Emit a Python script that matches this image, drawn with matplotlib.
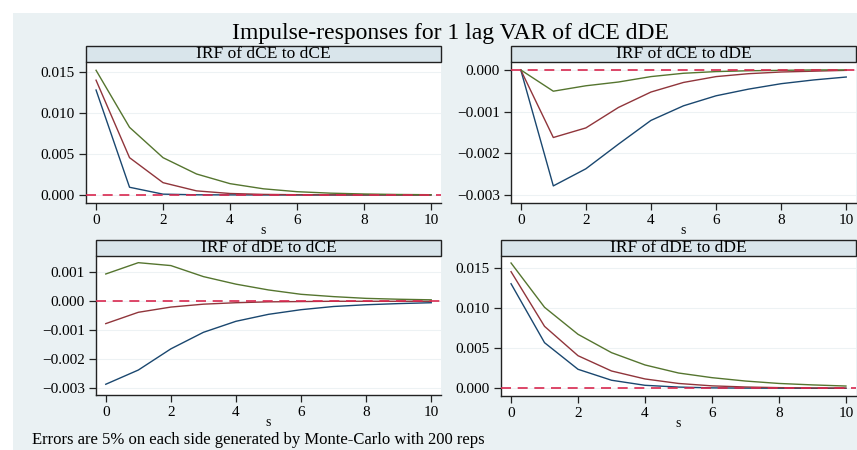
import matplotlib.pyplot as plt
from matplotlib.patches import Rectangle

# horizon steps
steps = [0, 1, 2, 3, 4, 5, 6, 7, 8, 9, 10]

# IRF of dCE to dCE
ce_ce_lo = [0.0128, 0.00094, 0.0001, 0.00002, 0.00001, 0.0, 0.0, 0.0, 0.0, 0.0, 0.0]
ce_ce_irf = [0.0140, 0.00455, 0.0015, 0.0005, 0.00018, 0.00007, 0.00003, 0.00001, 0.0, 0.0, 0.0]
ce_ce_hi = [0.01521, 0.00825, 0.00455, 0.00256, 0.00138, 0.00075, 0.0004, 0.00022, 0.00012, 0.00006, 0.00003]

# IRF of dCE to dDE
ce_de_lo = [0.0, -0.00278, -0.00237, -0.00178, -0.00121, -0.00086, -0.00062, -0.00046, -0.00033, -0.00024, -0.00017]
ce_de_irf = [0.0, -0.00162, -0.00139, -0.0009, -0.00053, -0.0003, -0.00016, -0.00009, -0.00005, -0.00003, -0.00001]
ce_de_hi = [0.0, -0.00051, -0.00038, -0.00029, -0.00016, -0.00008, -0.00004, -0.00002, -0.00001, 0.0, 0.0]

# IRF of dDE to dCE
de_ce_lo = [-0.00286, -0.00237, -0.00164, -0.00107, -0.00069, -0.00045, -0.00029, -0.00018, -0.00012, -0.00008, -0.00005]
de_ce_irf = [-0.00077, -0.00038, -0.0002, -0.0001, -0.00005, -0.00002, -0.00001, 0.0, 0.0, 0.0, 0.0]
de_ce_hi = [0.00094, 0.00133, 0.00123, 0.00085, 0.00059, 0.00039, 0.00024, 0.00016, 0.0001, 0.00007, 0.00005]

# IRF of dDE to dDE
de_de_lo = [0.0130, 0.00567, 0.00236, 0.001, 0.00037, 0.00015, 0.00005, 0.00002, 0.00001, 0.0, 0.0]
de_de_irf = [0.0145, 0.0077, 0.00405, 0.00215, 0.00116, 0.0006, 0.0003, 0.00016, 0.00008, 0.00004, 0.00002]
de_de_hi = [0.01558, 0.01007, 0.00671, 0.00443, 0.0029, 0.0019, 0.00132, 0.0009, 0.0006, 0.00042, 0.00028]

titles = ["IRF of dCE to dCE", "IRF of dCE to dDE", "IRF of dDE to dCE", "IRF of dDE to dDE"]
yticks = [
    [0.0, 0.005, 0.010, 0.015],
    [-0.003, -0.002, -0.001, 0.0],
    [-0.003, -0.002, -0.001, 0.0, 0.001],
    [0.0, 0.005, 0.010, 0.015],
]
ylims = [(-0.00098, 0.01622), (-0.00319, 0.00019), (-0.00323, 0.00156), (-0.00096, 0.01645)]

BG = "#eaf1f3"
HEAD = "#d9e5eb"
NAVY, MAROON, GREEN = "#1a476f", "#90353b", "#55752f"
ZERO = "#d8284f"
FONT = "Liberation Serif"

W, H = 857, 450
fig = plt.figure(figsize=(W / 100, H / 100), dpi=100, facecolor="white")
fig.patches.append(Rectangle((13 / W, 0), 1 - 13 / W, 1 - 13 / H, transform=fig.transFigure,
                             facecolor=BG, edgecolor="none", zorder=-10))

# panel boxes in pixels: left, right, top, bottom
boxes = [(86, 441, 62, 203), (511, 856, 62, 203), (96, 441, 256, 395), (501, 856, 256, 396)]
series = [
    (ce_ce_lo, ce_ce_irf, ce_ce_hi),
    (ce_de_lo, ce_de_irf, ce_de_hi),
    (de_ce_lo, de_ce_irf, de_ce_hi),
    (de_de_lo, de_de_irf, de_de_hi),
]

for i, (l, r, t, b) in enumerate(boxes):
    ax = fig.add_axes([l / W, 1 - b / H, (r - l) / W, (b - t) / H])
    ax.set_facecolor("white")
    ax.set_axisbelow(True)
    lo, irf, hi = series[i]
    ax.plot(steps, lo, color=NAVY, lw=1.0, zorder=3)
    ax.plot(steps, irf, color=MAROON, lw=1.0, zorder=3)
    ax.plot(steps, hi, color=GREEN, lw=1.0, zorder=3)
    ax.axhline(0, color=ZERO, lw=1.2, dashes=(6, 4), zorder=4)
    ax.set_xlim(-0.3, 10.3)
    ax.set_ylim(*ylims[i])
    ax.set_xticks([0, 2, 4, 6, 8, 10])
    ax.set_yticks(yticks[i])
    ax.set_yticklabels(["%.3f" % v if v >= 0 else "\u2212%.3f" % -v for v in yticks[i]])
    ax.grid(axis="y", color="#edf2f4", lw=0.8)
    for s in ["top", "right"]:
        ax.spines[s].set_visible(False)
    for s in ["left", "bottom"]:
        ax.spines[s].set_color("#222222")
        ax.spines[s].set_linewidth(1.0)
    ax.tick_params(direction="out", length=5, width=0.9, color="#222222",
                   labelsize=11, pad=3)
    for lab in ax.get_xticklabels() + ax.get_yticklabels():
        lab.set_fontfamily(FONT)
    ax.set_xlabel("s", fontsize=10, family=FONT, labelpad=-2)
    # header strip above the plot area
    hh = 16 / (b - t)
    ax.add_patch(Rectangle((0, 1), 1, hh, transform=ax.transAxes, clip_on=False,
                           facecolor=HEAD, edgecolor="#222222", lw=1.0))
    ax.text(0.5, 1 + hh / 2, titles[i], transform=ax.transAxes, ha="center", va="center",
            fontsize=12.5, family=FONT)

fig.text(450 / W, 1 - 33 / H, "Impulse-responses for 1 lag VAR of dCE dDE",
         ha="center", va="center", fontsize=17, family=FONT)
fig.text(32 / W, 1 - 440 / H, "Errors are 5% on each side generated by Monte-Carlo with 200 reps",
         ha="left", va="center", fontsize=12, family=FONT)

fig.savefig("out.png", dpi=100, facecolor=fig.get_facecolor())
